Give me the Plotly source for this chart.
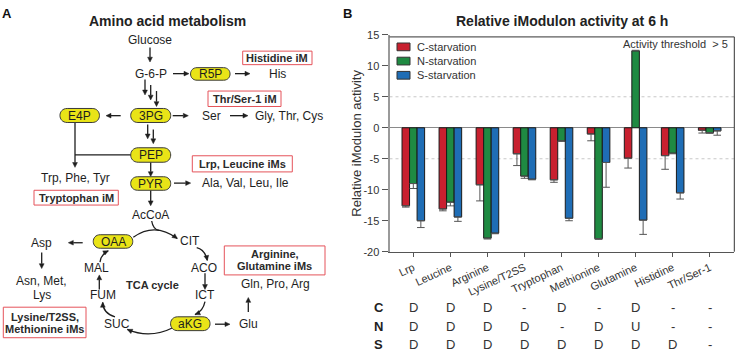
import math
import plotly.graph_objects as go

W, H = 735, 356
FONT = "Liberation Sans, Arial, sans-serif"

# ---------------- data (panel B) ----------------
categories = ["Lrp", "Leucine", "Arginine", "Lysine/T2SS", "Tryptophan",
              "Methionine", "Glutamine", "Histidine", "Thr/Ser-1"]
series_names = ["C-starvation", "N-starvation", "S-starvation"]
c_vals = [-12.6, -13.1, -9.2, -4.2, -8.4, -1.0, -4.9, -4.5, -0.4]
c_err = [0.2, 0.3, 2.6, 1.9, 0.4, 1.1, 1.6, 2.2, 0.45]
n_vals = [-9.0, -12.0, -17.8, -7.8, -2.1, -17.9, 12.4, -4.1, -0.8]
n_err = [0.8, 0.6, 0.15, 0.35, 0.1, 0.1, 0.1, 0.1, 0.1]
s_vals = [-15.0, -14.4, -17.0, -8.3, -14.6, -5.6, -14.9, -10.5, -0.5]
s_err = [1.1, 0.7, 0.1, 0.1, 0.4, 4.0, 2.3, 1.0, 0.7]
bar_colors = ["#C8202F", "#1F8A42", "#1F6DB5"]
y_ticks = [15, 10, 5, 0, -5, -10, -15, -20]
y_ticktext = ["15", "10", "5", "0", "-5", "-10", "-15", "-20"]
row_labels = ["C", "N", "S"]
c_calls = ["D", "D", "D", "-", "D", "-", "D", "-", "-"]
n_calls = ["D", "D", "D", "D", "-", "D", "U", "-", "-"]
s_calls = ["D", "D", "D", "D", "D", "D", "D", "D", "-"]


def px(x):
    return x / W


def py(y):
    return 1 - y / H


fig = go.Figure()
for name, vals, errs, col in zip(series_names, [c_vals, n_vals, s_vals],
                                 [c_err, n_err, s_err], bar_colors):
    up = [e if v > 0 else 0 for v, e in zip(vals, errs)]
    dn = [e if v < 0 else 0 for v, e in zip(vals, errs)]
    fig.add_trace(go.Bar(
        x=categories, y=vals, name=name, showlegend=False, hoverinfo="skip",
        marker=dict(color=col, line=dict(color="#1a1a1a", width=1)),
        error_y=dict(type="data", symmetric=False, array=up, arrayminus=dn,
                     color="#555555", thickness=1, width=3.8),
    ))

shapes = []
annotations = []

# ---------------- panel B decorations ----------------
for yv in [5, -5]:
    shapes.append(dict(type="line", xref="x domain", yref="y", x0=0, x1=1, y0=yv, y1=yv,
                       line=dict(color="#c8c8c8", width=1, dash="dot"), layer="below"))
# frame top / right
shapes.append(dict(type="line", xref="paper", yref="paper", x0=px(389.5), x1=px(734.3),
                   y0=py(32), y1=py(32), line=dict(color="#333333", width=1)))
shapes.append(dict(type="line", xref="paper", yref="paper", x0=px(734.3), x1=px(734.3),
                   y0=py(32), y1=py(254.3), line=dict(color="#333333", width=1)))

# legend (manual)
for i, (name, col) in enumerate(zip(series_names, bar_colors)):
    yc = 42.3 + i * 14.7
    shapes.append(dict(type="rect", xref="paper", yref="paper", x0=px(397), x1=px(410),
                       y0=py(yc - 4), y1=py(yc + 4), fillcolor=col,
                       line=dict(color="#333333", width=1)))
    annotations.append(dict(text=name, x=px(415), y=py(yc), xref="paper", yref="paper",
                            xanchor="left", yanchor="middle", showarrow=False,
                            font=dict(size=11, color="#333333", family=FONT)))

annotations.append(dict(text="Activity threshold\u00a0\u00a0> 5", x=px(729.5), y=py(39),
                        xref="paper", yref="paper", xanchor="right", yanchor="middle",
                        showarrow=False, font=dict(size=11, color="#333333", family=FONT)))
annotations.append(dict(text="<b>Relative iModulon activity at 6 h</b>", x=px(562), y=py(16),
                        xref="paper", yref="paper", xanchor="center", yanchor="middle",
                        showarrow=False, font=dict(size=14, color="#222222", family=FONT)))
annotations.append(dict(text="Relative iModulon activity", x=px(356.5), y=py(142),
                        xref="paper", yref="paper", xanchor="center", yanchor="middle",
                        textangle=-90, showarrow=False,
                        font=dict(size=13, color="#333333", family=FONT)))
annotations.append(dict(text="<b>B</b>", x=px(347.5), y=py(7.5), xref="paper", yref="paper",
                        xanchor="center", yanchor="middle", showarrow=False,
                        font=dict(size=13, color="#111111", family=FONT)))

# C/N/S table
row_y = [311.5, 331.7, 350.5]
for lab, calls, yy in zip(row_labels, [c_calls, n_calls, s_calls], row_y):
    annotations.append(dict(text="<b>%s</b>" % lab, x=px(378.5), y=py(yy), xref="paper",
                            yref="paper", xanchor="center", yanchor="middle", showarrow=False,
                            font=dict(size=13, color="#222222", family=FONT)))
    for cat, call in zip(categories, calls):
        annotations.append(dict(text=call, x=cat, y=py(yy), xref="x", yref="paper",
                                xanchor="center", yanchor="middle", showarrow=False,
                                font=dict(size=13, color="#333333", family=FONT)))

# ---------------- panel A diagram ----------------
INK = "#1e1e1e"


def txt(t, x, y, size=12, bold=False, color=INK):
    annotations.append(dict(text=("<b>%s</b>" % t) if bold else t, x=px(x), y=py(y),
                            xref="paper", yref="paper", xanchor="center", yanchor="middle",
                            showarrow=False, font=dict(size=size, color=color, family=FONT)))


def head(x1, y1, dx, dy, L=5.0, hw=2.4):
    n = math.hypot(dx, dy)
    ux, uy = dx / n, dy / n
    bx, by = x1 - ux * L, y1 - uy * L
    nx, ny = -uy, ux
    pts = [(x1, y1), (bx + nx * hw, by + ny * hw), (bx - nx * hw, by - ny * hw)]
    path = "M%.5f,%.5f L%.5f,%.5f L%.5f,%.5f Z" % tuple(
        v for p in pts for v in (px(p[0]), py(p[1])))
    shapes.append(dict(type="path", xref="paper", yref="paper", path=path,
                       fillcolor=INK, line=dict(color=INK, width=0.5)))
    return bx, by


def arrow(x0, y0, x1, y1, with_head=True):
    if with_head:
        bx, by = head(x1, y1, x1 - x0, y1 - y0)
    else:
        bx, by = x1, y1
    shapes.append(dict(type="line", xref="paper", yref="paper", x0=px(x0), y0=py(y0),
                       x1=px(bx), y1=py(by), line=dict(color=INK, width=1.3)))


def curve(x0, y0, cx, cy, x1, y1, with_head=True):
    if with_head:
        head(x1, y1, x1 - cx, y1 - cy)
    path = "M%.5f,%.5f Q%.5f,%.5f %.5f,%.5f" % (px(x0), py(y0), px(cx), py(cy), px(x1), py(y1))
    shapes.append(dict(type="path", xref="paper", yref="paper", path=path,
                       line=dict(color=INK, width=1.3)))


def node(t, cx, cy, w=40, h=14):
    r = h / 2
    k = r * 4 / 3
    l, rt = cx - w / 2 + r, cx + w / 2 - r
    top, bot = cy - r, cy + r
    P = lambda x, y: "%.5f,%.5f" % (px(x), py(y))
    path = ("M" + P(l, top) + " L" + P(rt, top) + " C" + P(rt + k, top) + " " +
            P(rt + k, bot) + " " + P(rt, bot) + " L" + P(l, bot) + " C" + P(l - k, bot) +
            " " + P(l - k, top) + " " + P(l, top) + " Z")
    shapes.append(dict(type="path", xref="paper", yref="paper", path=path,
                       fillcolor="#E9E417", line=dict(color="#3a3a3a", width=1)))
    txt(t, cx, cy + 0.3, 12)


def box(lines, x0, y0, x1, y1, line_y):
    shapes.append(dict(type="rect", xref="paper", yref="paper", x0=px(x0), x1=px(x1),
                       y0=py(y0), y1=py(y1), fillcolor="white",
                       line=dict(color="#E5535A", width=1)))
    for t, yy in zip(lines, line_y):
        txt(t, (x0 + x1) / 2, yy, 11, bold=True, color="#2a2a2a")


annotations.append(dict(text="<b>A</b>", x=px(6.5), y=py(7.5), xref="paper", yref="paper",
                        xanchor="center", yanchor="middle", showarrow=False,
                        font=dict(size=13, color="#111111", family=FONT)))
txt("Amino acid metabolism", 167, 16, 14, bold=True, color="#222222")

# arrows
arrow(150, 43, 150, 58)
arrow(173, 70, 189, 70)
arrow(235, 70, 250, 70)
arrow(145, 76, 145, 92)
arrow(150.7, 81.7, 150.7, 97.3)
arrow(156.5, 88, 156.5, 104)
arrow(172.7, 113.5, 188.3, 113.5)
arrow(230, 113.5, 248, 113.5)
arrow(120.7, 113.5, 106, 113.5)
arrow(147.7, 122.7, 147.7, 137.5)
arrow(153.3, 127.7, 153.3, 142.5)
arrow(75, 120.7, 75, 167)
arrow(75, 154, 130.7, 154, with_head=False)
arrow(150.7, 161.7, 150.7, 176.5)
arrow(174, 183.3, 190.7, 183.3)
arrow(150.7, 190.7, 150.7, 206.7)
arrow(82.7, 245, 68.3, 245)
arrow(41.7, 255, 41.7, 271.7)
arrow(205, 276.7, 205, 293.3)
arrow(99.3, 293.3, 99.3, 278.3)
arrow(215, 329.3, 230, 329.3)
arrow(248.3, 316.7, 248.3, 301.7)

# TCA cycle curves
curve(133.3, 239.3, 155, 223.4, 177.3, 240.7)
curve(151.7, 222.5, 153, 231, 159, 232.3, with_head=False)
curve(196.7, 250, 205, 252, 207.3, 263.3)
curve(205, 306, 203, 316, 195, 319.3)
curve(173.3, 332.7, 150, 344.9, 127.3, 334.7)
curve(115, 321.7, 103, 318, 102.7, 306.7)
curve(100, 265, 101, 257, 108.3, 253.3)

# nodes
node("R5P", 210.3, 70.3, 39.5, 13)
node("E4P", 79.7, 113.3, 39.5, 14.5)
node("3PG", 150.7, 113.3, 40, 14.5)
node("PEP", 150.7, 154.2, 40, 15)
node("PYR", 150.7, 183.7, 40, 14)
node("OAA", 113, 243.7, 39.5, 14)
node("aKG", 190.3, 328.8, 39.5, 14.3)

# plain labels
txt("Glucose", 150, 35)
txt("G-6-P", 150.7, 70)
txt("His", 277, 70)
txt("Ser", 211, 113.5)
txt("Gly, Thr, Cys", 289, 113.5)
txt("Trp, Phe, Tyr", 75, 178.3)
txt("Ala, Val, Leu, Ile", 245, 183.3)
txt("AcCoA", 150.7, 216.7)
txt("CIT", 190, 242.7)
txt("ACO", 204, 270.7)
txt("ICT", 205, 299.3)
txt("SUC", 116.7, 329.3)
txt("FUM", 103.3, 299.3)
txt("MAL", 96.7, 270.7)
txt("Asp", 41.7, 245)
txt("Asn, Met,", 41.7, 285)
txt("Lys", 41.7, 299.3)
txt("Glu", 248.3, 329.3)
txt("Gln, Pro, Arg", 275, 287.3)
txt("TCA cycle", 152.7, 289, 11, bold=True, color="#2a2a2a")

# iModulon boxes
box(["Histidine iM"], 242.7, 46.7, 312, 60.7, [53.7])
box(["Thr/Ser-1 iM"], 208, 88, 281, 104, [96])
box(["Lrp, Leucine iMs"], 192.3, 155, 292.3, 171.7, [163.3])
box(["Tryptophan iM"], 34, 190.7, 118.3, 206, [198.3])
box(["Arginine,", "Glutamine iMs"], 224.3, 248.3, 325, 278.3, [256.3, 269.5])
box(["Lysine/T2SS,", "Methionine iMs"], 3.3, 311.7, 86, 343.3, [321.7, 334])

fig.update_layout(
    width=W, height=H, margin=dict(l=0, r=0, t=0, b=0),
    paper_bgcolor="white", plot_bgcolor="rgba(0,0,0,0)",
    barmode="group", bargap=0.39, bargroupgap=0,
    font=dict(family=FONT, size=11, color="#333333"),
    showlegend=False, hovermode=False,
    xaxis=dict(domain=[px(389.5), px(734.3)], range=[-0.643, 8.664], type="category",
               showline=True, linecolor="#555555", linewidth=1.5, ticks="outside",
               ticklen=4, tickcolor="#555555", tickangle=-25, showgrid=False,
               tickfont=dict(size=11, color="#333333", family=FONT), fixedrange=True),
    yaxis=dict(domain=[py(254.3), py(29.8)], range=[-20, 15], tickvals=y_ticks,
               ticktext=y_ticktext, showline=True, linecolor="#9a9a9a", linewidth=2,
               ticks="outside", ticklen=6, tickcolor="#555555", showgrid=False,
               zeroline=True, zerolinecolor="#8a8a8a", zerolinewidth=1,
               tickfont=dict(size=11, color="#333333", family=FONT), fixedrange=True),
    shapes=shapes, annotations=annotations,
)

fig.write_html("out.html", config={"displayModeBar": False, "staticPlot": True},
               post_script="document.body.style.margin='0px';"
                           "document.body.style.overflow='hidden';")
